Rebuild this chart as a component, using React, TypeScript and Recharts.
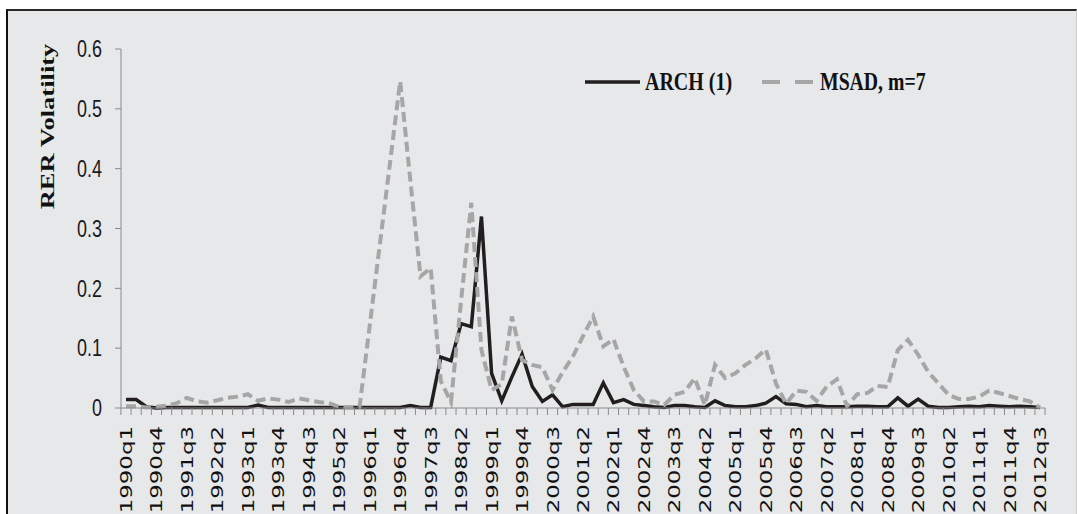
import React from "react";
import { LineChart, Line, XAxis, YAxis, Legend } from "recharts";

// quarters 1990q1 .. 2012q3
const QUARTERS: string[] = [];
for (let y = 1990; y <= 2012; y++) {
  for (let q = 1; q <= 4; q++) {
    if (y === 2012 && q > 3) break;
    QUARTERS.push(`${y}q${q}`);
  }
}

const ARCH = [
  0.014, 0.014, 0.002, 0.0, 0.001, 0.001, 0.001, 0.001, 0.001, 0.001,
  0.001, 0.001, 0.001, 0.005, 0.001, 0.001, 0.001, 0.001, 0.001, 0.001,
  0.001, 0.001, 0.001, 0.001, 0.001, 0.001, 0.001, 0.001, 0.004, 0.001,
  0.001, 0.085, 0.079, 0.141, 0.136, 0.32, 0.058, 0.012, 0.052, 0.09,
  0.036, 0.011, 0.022, 0.002, 0.006, 0.006, 0.006, 0.042, 0.009, 0.014,
  0.006, 0.004, 0.002, 0.001, 0.004, 0.004, 0.002, 0.001, 0.012, 0.004,
  0.002, 0.002, 0.004, 0.008, 0.019, 0.007, 0.006, 0.002, 0.004, 0.002,
  0.002, 0.002, 0.003, 0.003, 0.002, 0.002, 0.017, 0.003, 0.015, 0.003,
  0.001, 0.001, 0.002, 0.003, 0.002, 0.004, 0.003, 0.002, 0.003, 0.002,
  0.001,
];

const MSAD = [
  0.003, 0.003, 0.001, 0.002, 0.004, 0.008, 0.017, 0.011, 0.009, 0.013,
  0.017, 0.019, 0.023, 0.012, 0.016, 0.014, 0.01, 0.016, 0.013, 0.01,
  0.008, 0.002, 0.001, 0.002, 0.138, 0.274, 0.41, 0.546, 0.38, 0.22,
  0.234, 0.045, 0.01, 0.18, 0.343, 0.097, 0.03, 0.04, 0.153, 0.08,
  0.072, 0.068, 0.03, 0.06, 0.086, 0.12, 0.153, 0.103, 0.115, 0.069,
  0.03, 0.011, 0.011, 0.005, 0.022, 0.027, 0.05, 0.005, 0.072, 0.05,
  0.058, 0.072, 0.083, 0.098, 0.041, 0.007, 0.029, 0.027, 0.012, 0.036,
  0.048, 0.003, 0.023, 0.025, 0.037, 0.035, 0.097, 0.114, 0.089, 0.06,
  0.041, 0.022, 0.015, 0.015, 0.019, 0.029, 0.025, 0.02, 0.015, 0.011,
  0.001,
];

const Y_TICKS = [0, 0.1, 0.2, 0.3, 0.4, 0.5, 0.6];

const data = QUARTERS.map((q, i) => ({ q, arch: ARCH[i], msad: MSAD[i] }));

const W = 1077;
const H = 514;
const MARGIN = { top: 49, right: 32, bottom: 76, left: 61 };
const PAD = 5;
const PLOT_W = W - MARGIN.left - 60 - MARGIN.right;
const STEP = (PLOT_W - 2 * PAD) / (QUARTERS.length - 1);

const AXIS = "#8a8a8a";
const BLACK = "#221e1f";
const GRAY = "#a6a6a6";

function XTick(props: any) {
  const { x, y, index } = props;
  const last = index === QUARTERS.length - 1;
  return (
    <g>
      <line x1={x - STEP / 2} x2={x - STEP / 2} y1={y} y2={y + 7} stroke={AXIS} />
      {last && <line x1={x + STEP / 2} x2={x + STEP / 2} y1={y} y2={y + 7} stroke={AXIS} />}
      {index % 3 === 0 && (
        <text
          transform={`translate(${x},${y + 18}) rotate(-90) scale(1.43,1)`}
          y={6}
          textAnchor="end"
          fontSize={16}
          fontFamily="DejaVu Sans, sans-serif"
          fill="#111"
        >
          {QUARTERS[index]}
        </text>
      )}
    </g>
  );
}

function YTick(props: any) {
  const { x, y, payload } = props;
  const v = payload.value === 0 ? "0" : Number(payload.value).toFixed(1);
  return (
    <text
      transform={`translate(${x},${y}) scale(0.78,1)`}
      dy="0.36em"
      textAnchor="end"
      fontSize={23}
      fontFamily="Liberation Sans, Arial, sans-serif"
      fill="#1a1a1a"
    >
      {v}
    </text>
  );
}

function LegendBox() {
  const serif = "Liberation Serif, Times New Roman, serif";
  return (
    <svg width={360} height={40}>
      <line x1={5} x2={60} y1={22} y2={22} stroke={BLACK} strokeWidth={3.5} />
      <text
        transform="translate(65,30) scale(0.8,1)"
        fontSize={25}
        fontWeight="bold"
        fontFamily={serif}
        fill="#111"
      >
        ARCH (1)
      </text>
      <line
        x1={182}
        x2={233}
        y1={22}
        y2={22}
        stroke={GRAY}
        strokeWidth={4}
        strokeDasharray="18 15"
      />
      <text
        transform="translate(240,30) scale(0.79,1)"
        fontSize={25}
        fontWeight="bold"
        fontFamily={serif}
        fill="#111"
      >
        MSAD, m=7
      </text>
    </svg>
  );
}

export default function App() {
  return (
    <div style={{ position: "relative", width: W, height: H, overflow: "hidden", background: "#fff" }}>
      <style>{"body{margin:0}"}</style>
      <div
        style={{
          position: "absolute",
          left: 6,
          top: 9,
          width: W - 6,
          height: H + 20,
          boxSizing: "border-box",
          background: "#e7e8ea",
          borderTop: "2px solid #2a2a2a",
          borderLeft: "2px solid #111",
          borderRight: "1px solid #cccccc",
        }}
      />
      <div style={{ position: "absolute", left: 0, top: 0 }}>
        <LineChart width={W} height={H} data={data} margin={MARGIN}>
          <XAxis
            dataKey="q"
            interval={0}
            height={30}
            padding={{ left: PAD, right: PAD }}
            axisLine={{ stroke: AXIS }}
            tickLine={false}
            tickSize={0}
            tickMargin={0}
            tick={<XTick />}
          />
          <YAxis
            width={60}
            domain={[0, 0.6]}
            ticks={Y_TICKS}
            axisLine={{ stroke: AXIS }}
            tickLine={{ stroke: AXIS }}
            tickSize={6}
            tickMargin={13}
            tick={<YTick />}
          />
          <Legend
            layout="vertical"
            align="center"
            verticalAlign="middle"
            content={() => <LegendBox />}
            wrapperStyle={{ left: 580, top: 60, width: 360, height: 40 }}
          />
          <Line
            dataKey="arch"
            name="ARCH (1)"
            stroke={BLACK}
            strokeWidth={3.5}
            dot={false}
            isAnimationActive={false}
          />
          <Line
            dataKey="msad"
            name="MSAD, m=7"
            stroke={GRAY}
            strokeWidth={4}
            strokeDasharray="10 5"
            dot={false}
            isAnimationActive={false}
          />
        </LineChart>
      </div>
      <svg style={{ position: "absolute", left: 0, top: 0 }} width={W} height={H} pointerEvents="none">
        <text
          transform="translate(54,126.5) rotate(-90) scale(1.36,1)"
          textAnchor="middle"
          fontSize={19.5}
          fontWeight="bold"
          fontFamily="Liberation Serif, Times New Roman, serif"
          fill="#111"
        >
          RER Volatility
        </text>
      </svg>
    </div>
  );
}
